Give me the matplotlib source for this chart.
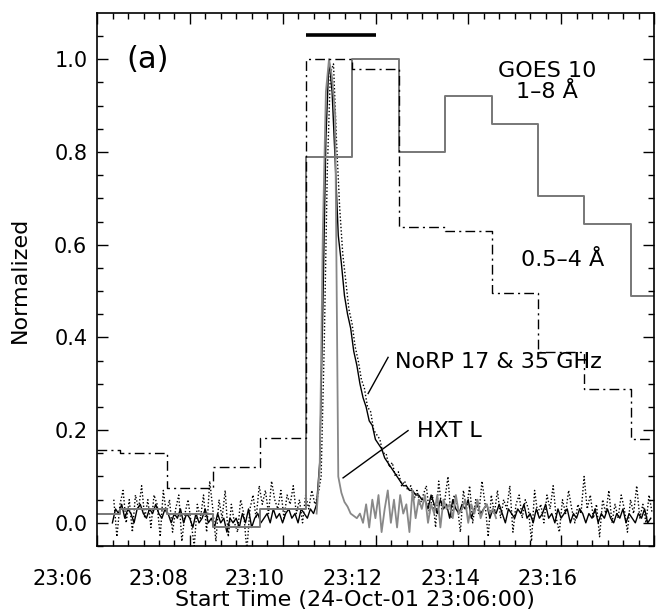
import numpy as np
import matplotlib
matplotlib.use('Agg')
import matplotlib.pyplot as plt

# time axis in minutes after 23:06:00
# GOES 1-minute averages, bin edges on the half minute
goes_edges = [0, 0.5, 1.5, 2.5, 3.5, 4.5, 5.5, 6.5, 7.5, 8.5, 9.5, 10.5, 11.5, 12]
goes_18 = [0.02, 0.03, 0.02, -0.01, 0.03, 0.79, 1.00, 0.80, 0.92, 0.86, 0.705, 0.645, 0.49]
goes_054 = [0.158, 0.150, 0.076, 0.121, 0.184, 1.00, 0.978, 0.639, 0.630, 0.495, 0.368, 0.288, 0.18]

# NoRP, 4 s cadence
norp_start = 0.33
norp_dt = 4 / 60
norp_17 = [
    0.00, 0.03, 0.02, 0.04, 0.01, 0.03, 0.02, 0.00, 0.03, 0.04,
    0.02, 0.01, 0.03, 0.02, 0.04, 0.02, 0.01, 0.03, 0.02, 0.00,
    0.02, 0.01, 0.03, 0.00, 0.02, 0.01, -0.01, 0.02, 0.00, 0.01,
    0.03, 0.00, 0.01, -0.01, 0.02, 0.00, 0.01, -0.02, 0.01, 0.00,
    0.01, -0.01, 0.02, 0.00, 0.03, -0.01, 0.01, 0.02, 0.00, 0.01,
    0.02, 0.00, 0.03, 0.01, 0.02, 0.00, 0.02, 0.03, 0.01, 0.02,
    0.00, 0.03, 0.02, 0.01, 0.03, 0.02,
    0.04, 0.13, 0.46, 0.83, 1.00, 0.93, 0.78, 0.62, 0.56, 0.49,
    0.45, 0.42, 0.37, 0.34, 0.30, 0.27, 0.25, 0.22, 0.21, 0.18,
    0.17, 0.16, 0.14, 0.13, 0.12, 0.11, 0.10, 0.09, 0.08, 0.08,
    0.07, 0.07, 0.06, 0.06, 0.05,
    0.05, 0.03, 0.06, 0.04, 0.02, 0.05, 0.03, 0.04, 0.01, 0.05,
    0.03, 0.02, 0.04, 0.03, 0.05, 0.01, 0.03, 0.04, 0.02, 0.03,
    0.04, 0.01, 0.03, 0.02, 0.04, 0.02, 0.00, 0.03, 0.02, 0.01,
    0.03, 0.02, 0.04, 0.01, 0.02, 0.00, 0.03, 0.01, 0.02, 0.04,
    0.01, 0.02, 0.00, 0.03, 0.01, 0.02, 0.03, 0.00, 0.02, 0.01,
    0.03, 0.02, 0.00, 0.02, 0.01, 0.03, 0.00, 0.02, 0.01, 0.03,
    0.01, 0.00, 0.02, 0.01, 0.03, 0.00, 0.02, 0.01, 0.00, 0.02,
    0.01, 0.03, 0.00, 0.01,
]
norp_35 = [
    0.05, -0.03, 0.04, 0.07, 0.00, 0.05, -0.02, 0.06, 0.03, 0.08,
    0.01, 0.05, -0.01, 0.06, 0.04, -0.03, 0.07, 0.02, 0.05, -0.02,
    0.03, 0.06, -0.04, 0.02, 0.05, 0.00, -0.05, 0.04, 0.01, 0.06,
    -0.02, 0.09, 0.03, -0.04, 0.05, 0.01, 0.07, -0.03, 0.04, 0.00,
    -0.02, 0.05, 0.02, -0.06, 0.03, 0.06, 0.01, 0.08, 0.04, 0.07,
    0.02, 0.09, 0.05, 0.03, 0.07, 0.01, 0.06, 0.04, 0.08, 0.02,
    0.05, 0.00, 0.06, 0.03, 0.07, 0.04,
    0.06, 0.10, 0.38, 0.76, 0.97, 0.99, 0.82, 0.68, 0.58, 0.52,
    0.46, 0.43, 0.38, 0.35, 0.31, 0.29, 0.25, 0.24, 0.20, 0.19,
    0.18, 0.15, 0.15, 0.12, 0.13, 0.10, 0.11, 0.08, 0.09, 0.07,
    0.08, 0.05, 0.07, 0.04, 0.06,
    0.08, 0.02, 0.06, -0.01, 0.09, 0.03, 0.05, 0.10, 0.01, 0.06,
    0.04, -0.02, 0.07, 0.03, 0.08, 0.00, 0.05, 0.02, 0.09, 0.04,
    -0.03, 0.06, 0.02, 0.07, 0.01, 0.05, 0.03, 0.08, -0.02, 0.04,
    0.06, 0.01, 0.05, 0.03, -0.04, 0.07, 0.02, 0.04, 0.00, 0.06,
    0.03, 0.08, 0.01, -0.02, 0.05, 0.02, 0.07, 0.03, 0.00, 0.04,
    0.02, 0.10, 0.03, 0.06, 0.01, 0.04, -0.03, 0.05, 0.02, 0.07,
    0.00, 0.04, 0.01, 0.06, 0.03, -0.02, 0.05, 0.02, 0.08, 0.01,
    0.04, 0.00, 0.06, 0.02,
]

# Yohkoh HXT L band, 4 s cadence
hxt_start = 4.73
hxt_dt = 4 / 60
hxt_l = [
    0.02, 0.12, 0.62, 0.93, 1.00, 0.96, 0.88, 0.10, 0.065, 0.045,
    0.035, 0.02, 0.015,
    0.01, 0.02, 0.00, 0.04, -0.01, 0.05, 0.01, 0.06, -0.02, 0.03,
    0.07, 0.00, 0.05, -0.01, 0.06, 0.02, 0.04, -0.02, 0.07, 0.01,
    0.05, 0.03, 0.06, 0.00, 0.04, 0.02, 0.06, -0.01, 0.05, 0.03,
    0.04, 0.01, 0.06, 0.02, 0.03, 0.05, 0.00, 0.04, 0.02, 0.05,
    0.01, 0.03, 0.04, 0.02, 0.03, 0.01,
]

# bar marking the interval of interest
bar_span = [4.5, 6.0]
bar_level = 1.052

tick_text = ['23:06', '23:08', '23:10', '23:12', '23:14', '23:16']
tick_text_pos = [-0.75, 1.32, 3.40, 5.50, 7.61, 9.70]

t17 = norp_start + norp_dt * np.arange(len(norp_17))
t35 = norp_start + 0.03 + norp_dt * np.arange(len(norp_35))
th = hxt_start + hxt_dt * np.arange(len(hxt_l))

fig = plt.figure(figsize=(6.56, 6.16), dpi=100)
ax = fig.add_axes([0.148, 0.1136, 0.849, 0.8654])

ax.plot(t35, norp_35, color='black', lw=1.0, ls=(0, (1, 1.5)))
ax.plot(t17, norp_17, color='black', lw=1.0)
ax.plot(th, hxt_l, color='#888888', lw=1.3)
ax.step(goes_edges, goes_18 + [goes_18[-1]], where='post', color='#777777', lw=1.4)
ax.step(goes_edges, goes_054 + [goes_054[-1]], where='post', color='black', lw=1.0,
        ls=(0, (7, 3, 1.5, 3)))
ax.plot(bar_span, [bar_level, bar_level], color='black', lw=2.6, solid_capstyle='butt')

ax.set_xlim(0, 12)
ax.set_ylim(-0.05, 1.1)
ax.set_xticks(np.arange(0, 12.1, 2))
ax.set_xticks(np.arange(0, 12.01, 1 / 3), minor=True)
ax.set_xticklabels([])
ax.set_yticks(np.arange(0, 1.01, 0.2))
ax.set_yticks(np.arange(-0.05, 1.1, 0.05), minor=True)
ax.set_yticklabels(['%.1f' % v for v in np.arange(0, 1.01, 0.2)], fontsize=15)
ax.tick_params(which='both', direction='in', top=True, right=True, width=1.0)
ax.tick_params(which='major', length=8, pad=7)
ax.tick_params(which='minor', length=4)
for s in ax.spines.values():
    s.set_linewidth(1.2)

for lab, p in zip(tick_text, tick_text_pos):
    ax.text(p, -0.062, lab, transform=ax.get_xaxis_transform(), ha='center', va='center',
            fontsize=15, clip_on=False)

ax.set_xlabel('Start Time (24-Oct-01 23:06:00)', fontsize=16)
ax.xaxis.set_label_coords(0.463, -0.082)
ax.set_ylabel('Normalized', fontsize=16)
ax.yaxis.set_label_coords(-0.12, 0.5)

ax.text(1.08, 1.0, '(a)', fontsize=22, ha='center', va='center')
ax.text(9.70, 0.974, 'GOES 10', fontsize=16, ha='center', va='center')
ax.text(9.70, 0.929, '1\u20138 \u00c5', fontsize=16, ha='center', va='center')
ax.text(10.02, 0.567, '0.5\u20134 \u00c5', fontsize=16, ha='center', va='center')
ax.text(6.42, 0.346, 'NoRP 17 & 35 GHz', fontsize=16, ha='left', va='center')
ax.plot([6.27, 5.84], [0.357, 0.279], color='black', lw=1.0)
ax.text(6.90, 0.199, 'HXT L', fontsize=16, ha='left', va='center')
ax.plot([6.70, 5.30], [0.199, 0.097], color='black', lw=1.0)

fig.savefig('out.png', dpi=100)
